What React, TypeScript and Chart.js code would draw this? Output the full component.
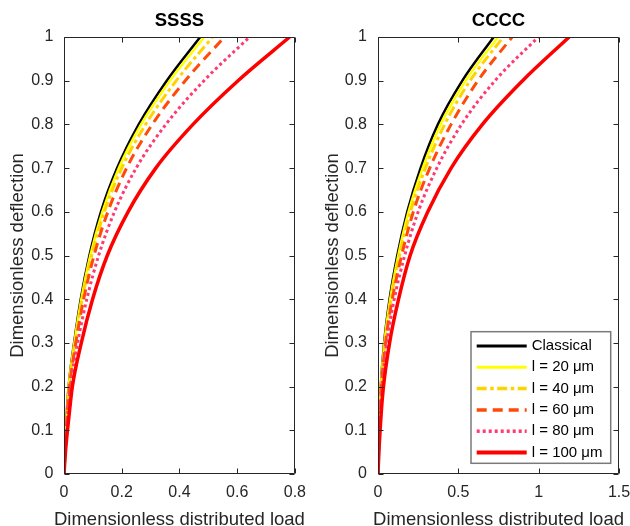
import React, { useEffect, useRef } from "react";
import { Chart, registerables } from "chart.js";

Chart.register(...registerables);

// ---------- data ----------
const deflection = [0, 0.05, 0.1, 0.15, 0.2, 0.3, 0.4, 0.5, 0.6, 0.7, 0.8, 0.9, 1.0];
const seriesLabels = ["Classical", "l = 20 μm", "l = 40 μm", "l = 60 μm", "l = 80 μm", "l = 100 μm"];
const xAxisTitle = "Dimensionless distributed load";
const yAxisTitle = "Dimensionless deflection";

// SSSS: dimensionless distributed load at each deflection level
const ssssClassical = [0, 0.003, 0.0065, 0.0105, 0.016, 0.035, 0.058, 0.088, 0.128, 0.184, 0.259, 0.356, 0.472];
const ssssL20 = [0, 0.003, 0.0068, 0.011, 0.0165, 0.036, 0.06, 0.091, 0.133, 0.19, 0.267, 0.367, 0.486];
const ssssL40 = [0, 0.0033, 0.0072, 0.0115, 0.0175, 0.038, 0.063, 0.096, 0.14, 0.2, 0.283, 0.389, 0.515];
const ssssL60 = [0, 0.0036, 0.0077, 0.0124, 0.019, 0.041, 0.068, 0.104, 0.152, 0.217, 0.306, 0.42, 0.556];
const ssssL80 = [0, 0.004, 0.0088, 0.0142, 0.022, 0.047, 0.079, 0.12, 0.175, 0.25, 0.353, 0.485, 0.643];
const ssssL100 = [0, 0.005, 0.012, 0.02, 0.029, 0.06, 0.099, 0.15, 0.222, 0.318, 0.447, 0.603, 0.782];

// CCCC
const ccccClassical = [0, 0.003, 0.0065, 0.011, 0.017, 0.038, 0.072, 0.12, 0.182, 0.265, 0.373, 0.525, 0.72];
const ccccL20 = [0, 0.0032, 0.007, 0.0115, 0.018, 0.04, 0.076, 0.126, 0.19, 0.278, 0.39, 0.545, 0.748];
const ccccL40 = [0, 0.0034, 0.0074, 0.012, 0.019, 0.043, 0.081, 0.134, 0.202, 0.295, 0.415, 0.573, 0.78];
const ccccL60 = [0, 0.0037, 0.008, 0.013, 0.021, 0.047, 0.089, 0.147, 0.22, 0.322, 0.455, 0.622, 0.835];
const ccccL80 = [0, 0.0042, 0.009, 0.015, 0.024, 0.054, 0.101, 0.166, 0.25, 0.366, 0.52, 0.728, 0.998];
const ccccL100 = [0, 0.0055, 0.013, 0.022, 0.034, 0.072, 0.128, 0.2, 0.31, 0.455, 0.65, 0.9, 1.19];

const ssssXTicks = [0, 0.2, 0.4, 0.6, 0.8];
const ccccXTicks = [0, 0.5, 1, 1.5];
const yTicks = [0, 0.1, 0.2, 0.3, 0.4, 0.5, 0.6, 0.7, 0.8, 0.9, 1];

// ---------- styles ----------
const FONT = "'Liberation Sans', Arial, Helvetica, sans-serif";
const AXIS_COLOR = "#262626";
const colors = ["#000000", "#FFFF00", "#FFD200", "#FF4A0A", "#FF3A72", "#FF0000"];
const widths = [2.5, 2.5, 3, 3, 3, 3.5];
const dashes: number[][] = [[], [], [10, 3.5, 3.5, 3.5], [10, 6], [3, 3], []];

const framePlugin = {
  id: "frameTicks",
  afterDatasetsDraw(chart: any) {
    const { ctx, chartArea: a, scales } = chart;
    const L = Math.round(a.left) + 0.5;
    const R = Math.round(a.right) - 0.5;
    const T = Math.round(a.top) + 0.5;
    const B = Math.round(a.bottom) - 0.5;
    const tl = 5;
    ctx.save();
    ctx.strokeStyle = AXIS_COLOR;
    ctx.lineWidth = 1;
    ctx.setLineDash([]);
    ctx.beginPath();
    ctx.rect(L, T, R - L, B - T);
    scales.x.ticks.forEach((t: any) => {
      const px = Math.round(scales.x.getPixelForValue(t.value)) + 0.5;
      ctx.moveTo(px, B);
      ctx.lineTo(px, B - tl);
      ctx.moveTo(px, T);
      ctx.lineTo(px, T + tl);
    });
    scales.y.ticks.forEach((t: any) => {
      const py = Math.round(scales.y.getPixelForValue(t.value)) + 0.5;
      ctx.moveTo(L, py);
      ctx.lineTo(L + tl, py);
      ctx.moveTo(R, py);
      ctx.lineTo(R - tl, py);
    });
    ctx.stroke();
    // x-axis title (drawn without width compression)
    ctx.fillStyle = AXIS_COLOR;
    ctx.font = `18.5px ${FONT}`;
    ctx.textAlign = "center";
    ctx.textBaseline = "alphabetic";
    ctx.fillText(xAxisTitle, (a.left + a.right) / 2, 524.5);
    ctx.restore();
  },
};

const legendPlugin = {
  id: "boxLegend",
  afterDraw(chart: any, _args: any, opts: any) {
    if (!opts || !opts.show) return;
    const { ctx } = chart;
    const { x, y, w, h, rowStart, rowGap, sampleX, sampleW, textX } = opts;
    ctx.save();
    ctx.fillStyle = "#ffffff";
    ctx.fillRect(x, y, w, h);
    ctx.strokeStyle = "#7a7a7a";
    ctx.lineWidth = 1.5;
    ctx.setLineDash([]);
    ctx.strokeRect(x, y, w, h);
    chart.data.datasets.forEach((ds: any, i: number) => {
      const ry = rowStart + i * rowGap;
      ctx.beginPath();
      ctx.strokeStyle = ds.borderColor;
      ctx.lineWidth = ds.borderWidth + 0.5;
      ctx.setLineDash(ds.borderDash || []);
      ctx.moveTo(sampleX, ry);
      ctx.lineTo(sampleX + sampleW, ry);
      ctx.stroke();
      ctx.setLineDash([]);
      ctx.fillStyle = "#000000";
      ctx.font = `15px ${FONT}`;
      ctx.textBaseline = "middle";
      ctx.textAlign = "left";
      ctx.fillText(ds.label, textX, ry);
    });
    ctx.restore();
  },
};

type PanelProps = {
  left: number;
  width: number;
  height: number;
  title: string;
  xMax: number;
  xTicks: number[];
  series: number[][];
  yWidth: number;
  yPad: number;
  padRight: number;
  legend?: any;
};

function Panel(p: PanelProps) {
  const ref = useRef<HTMLCanvasElement>(null);
  useEffect(() => {
    if (!ref.current) return;
    const datasets = p.series.map((s, i) => ({
      label: seriesLabels[i],
      data: deflection.map((w, j) => ({ x: s[j], y: w })),
      borderColor: colors[i],
      backgroundColor: colors[i],
      borderWidth: widths[i],
      borderDash: dashes[i],
      borderCapStyle: "butt",
      pointRadius: 0,
      fill: false,
      cubicInterpolationMode: "monotone",
      order: p.series.length - i,
    }));
    const chart = new Chart(ref.current, {
      type: "line",
      data: { datasets } as any,
      options: {
        responsive: false,
        animation: false,
        devicePixelRatio: 1,
        events: [],
        layout: { padding: { left: 0, right: p.padRight, top: 0, bottom: 0 } },
        plugins: {
          legend: { display: false },
          tooltip: { enabled: false },
          title: {
            display: true,
            text: p.title,
            fullSize: false,
            color: "#000000",
            font: { family: FONT, size: 18.5, weight: "bold" },
            padding: { top: 9.4, bottom: 5.4 },
          },
          boxLegend: p.legend || { show: false },
        } as any,
        scales: {
          x: {
            type: "linear",
            min: 0,
            max: p.xMax,
            afterBuildTicks: (s: any) => {
              s.ticks = p.xTicks.map((v) => ({ value: v }));
            },
            afterFit: (s: any) => {
              s.height = p.height - 474;
            },
            grid: { display: false, drawTicks: false },
            border: { display: false },
            ticks: {
              padding: 9,
              color: AXIS_COLOR,
              font: { family: FONT, size: 16 },
              maxRotation: 0,
              autoSkip: false,
              callback: (v: any) => String(v),
            },
            title: { display: false },
          },
          y: {
            type: "linear",
            min: 0,
            max: 1,
            afterBuildTicks: (s: any) => {
              s.ticks = yTicks.map((v) => ({ value: v }));
            },
            afterFit: (s: any) => {
              s.width = p.yWidth;
            },
            grid: { display: false, drawTicks: false },
            border: { display: false },
            ticks: {
              padding: p.yPad,
              color: AXIS_COLOR,
              font: { family: FONT, size: 16 },
              autoSkip: false,
              callback: (v: any) => String(v),
            },
            title: {
              display: true,
              text: yAxisTitle,
              color: AXIS_COLOR,
              font: { family: FONT, size: 18.5 },
              padding: { top: 7, bottom: 0 },
            },
          },
        },
      } as any,
      plugins: [framePlugin, legendPlugin],
    });
    return () => chart.destroy();
  }, []);
  return (
    <canvas
      ref={ref}
      width={p.width}
      height={p.height}
      style={{ position: "absolute", left: p.left, top: 0, width: p.width, height: p.height }}
    />
  );
}

export default function App() {
  return (
    <div
      style={{
        position: "absolute",
        left: 0,
        top: 0,
        width: 630,
        height: 526,
        overflow: "hidden",
        background: "#ffffff",
      }}
    >
      <Panel
        left={0}
        width={315}
        height={530}
        title="SSSS"
        xMax={0.8}
        xTicks={ssssXTicks}
        series={[ssssClassical, ssssL20, ssssL40, ssssL60, ssssL80, ssssL100]}
        yWidth={64}
        yPad={10.5}
        padRight={12}
      />
      <Panel
        left={315}
        width={330}
        height={530}
        title="CCCC"
        xMax={1.5}
        xTicks={ccccXTicks}
        series={[ccccClassical, ccccL20, ccccL40, ccccL60, ccccL80, ccccL100]}
        yWidth={63}
        yPad={11}
        padRight={26}
        legend={{
          show: true,
          x: 156,
          y: 331.7,
          w: 139.7,
          h: 131.6,
          rowStart: 346,
          rowGap: 21.3,
          sampleX: 161.7,
          sampleW: 50,
          textX: 216.7,
        }}
      />
    </div>
  );
}
